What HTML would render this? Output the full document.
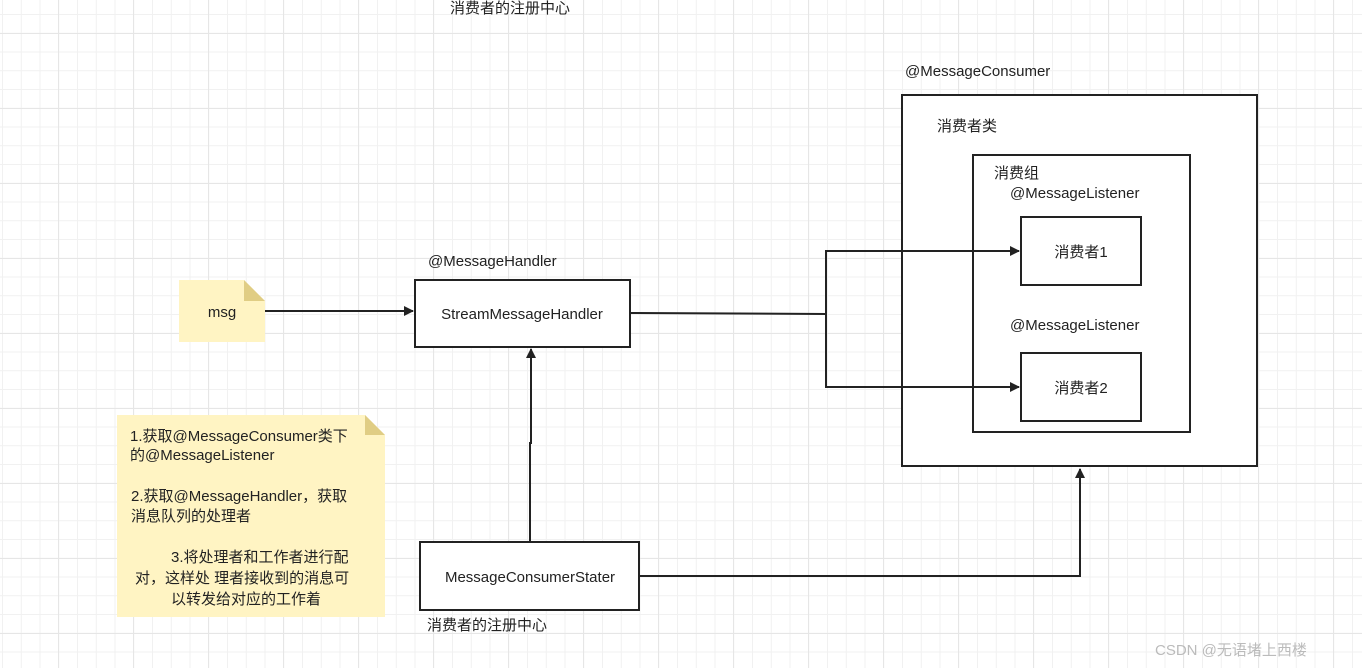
<!DOCTYPE html>
<html><head><meta charset="utf-8"><style>
html,body{margin:0;padding:0;}
body{width:1362px;height:668px;overflow:hidden;background:#fff;
background-image:
linear-gradient(to right,#e6e6e6 1px,transparent 1px),
linear-gradient(to bottom,#e6e6e6 1px,transparent 1px),
linear-gradient(to right,#f1f1f1 1px,transparent 1px),
linear-gradient(to bottom,#f1f1f1 1px,transparent 1px);
background-size:75px 75px,75px 75px,18.75px 18.75px,18.75px 18.75px;
background-position:58px 0,0 33px,2px 0,0 14px;}
svg{position:absolute;left:0;top:0;}
text{font-family:"Liberation Sans","Noto Sans CJK SC",sans-serif;font-size:15px;fill:#222;}
</style></head><body>
<svg width="1362" height="668" viewBox="0 0 1362 668">
<defs><marker id="a" markerWidth="10" markerHeight="10" refX="9" refY="5" orient="auto" markerUnits="userSpaceOnUse"><path d="M0,0 L10,5 L0,10 Z" fill="#222"/></marker></defs>
<text x="450" y="13">消费者的注册中心</text>
<!-- msg note -->
<path d="M179,280 H244 L265,301 V342 H179 Z" fill="#fff4c3"/>
<path d="M244,280 L265,301 H244 Z" fill="#e0cd84"/>
<text x="222" y="317" text-anchor="middle" font-size="16">msg</text>
<line x1="265" y1="311" x2="413" y2="311" stroke="#222" stroke-width="2" marker-end="url(#a)"/>
<!-- handler -->
<text x="428" y="266" font-size="16">@MessageHandler</text>
<rect x="415" y="280" width="215" height="67" fill="#fff" stroke="#222" stroke-width="2"/>
<text x="522" y="319" text-anchor="middle" font-size="16">StreamMessageHandler</text>
<!-- note big -->
<path d="M117,415 H365 L385,435 V617 H117 Z" fill="#fff4c3"/>
<path d="M365,415 L385,435 H365 Z" fill="#e0cd84"/>
<text x="130" y="441" font-size="15.5">1.获取@MessageConsumer类下</text>
<text x="130" y="460" font-size="15.5">的@MessageListener</text>
<text x="131" y="501" font-size="15.5">2.获取@MessageHandler，获取</text>
<text x="131" y="521" font-size="15.5">消息队列的处理者</text>
<text x="171" y="562" font-size="15.5">3.将处理者和工作者进行配</text>
<text x="135" y="583" font-size="15.5">对，这样处 理者接收到的消息可</text>
<text x="171" y="604" font-size="15.5">以转发给对应的工作着</text>
<!-- stater -->
<rect x="420" y="542" width="219" height="68" fill="#fff" stroke="#222" stroke-width="2"/>
<text x="530" y="582" text-anchor="middle" font-size="16">MessageConsumerStater</text>
<text x="427" y="630">消费者的注册中心</text>
<polyline points="530,542 530,443 531,443 531,349" fill="none" stroke="#222" stroke-width="2" marker-end="url(#a)"/>
<polyline points="639,576 1080,576 1080,469" fill="none" stroke="#222" stroke-width="2" marker-end="url(#a)"/>
<!-- consumer -->
<text x="905" y="76" font-size="16">@MessageConsumer</text>
<rect x="902" y="95" width="355" height="371" fill="#fff" stroke="#222" stroke-width="2"/>
<text x="937" y="131">消费者类</text>
<rect x="973" y="155" width="217" height="277" fill="#fff" stroke="#222" stroke-width="2"/>
<text x="994" y="178">消费组</text>
<text x="1010" y="198" font-size="16">@MessageListener</text>
<rect x="1021" y="217" width="120" height="68" fill="#fff" stroke="#222" stroke-width="2"/>
<text x="1081" y="257" text-anchor="middle">消费者1</text>
<text x="1010" y="330" font-size="16">@MessageListener</text>
<rect x="1021" y="353" width="120" height="68" fill="#fff" stroke="#222" stroke-width="2"/>
<text x="1081" y="393" text-anchor="middle">消费者2</text>
<polyline points="630,313 826,314 826,251 1019,251" fill="none" stroke="#222" stroke-width="2" marker-end="url(#a)"/>
<polyline points="826,314 826,387 1019,387" fill="none" stroke="#222" stroke-width="2" marker-end="url(#a)"/>
<text x="1155" y="655" font-size="16" style="fill:#bbb">CSDN @无语堵上西楼</text>
</svg>
</body></html>
